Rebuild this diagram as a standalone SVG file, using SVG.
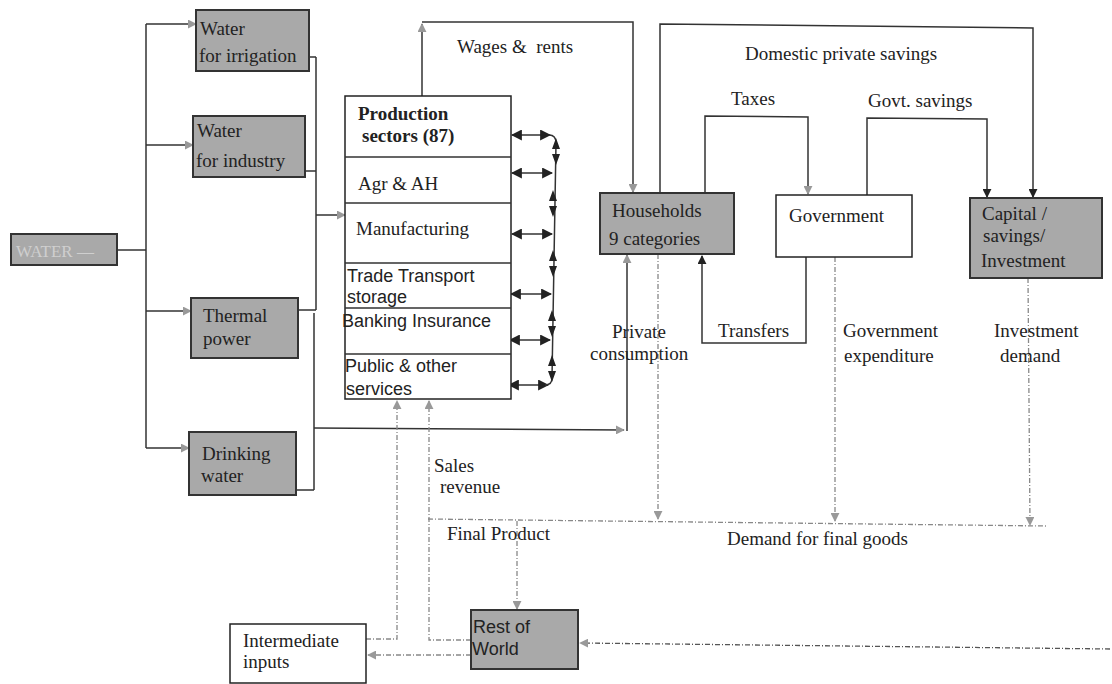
<svg xmlns="http://www.w3.org/2000/svg" width="1112" height="684" viewBox="0 0 1112 684">
<style>
.serif{font-family:"Liberation Serif","Times New Roman",serif;font-size:19px;fill:#222}
.bold{font-weight:bold}
.sans{font-family:"Liberation Sans",Arial,sans-serif;font-size:18px;fill:#222}
.gbox{fill:#a9a9a9;stroke:#333;stroke-width:2}
.wbox{fill:#fff;stroke:#222;stroke-width:1.5}
.ln{fill:none;stroke:#333;stroke-width:1.5}
.dl{fill:none;stroke:#888;stroke-width:1.3;stroke-dasharray:5 2 1 2}
.ah{fill:#222}
</style>
<defs>
<marker id="aB" viewBox="0 0 10 10" refX="9" refY="5" markerWidth="9" markerHeight="9" markerUnits="userSpaceOnUse" orient="auto"><path d="M0,0 L10,5 L0,10 z" fill="#222"/></marker>
<marker id="aD" viewBox="0 0 10 10" refX="9" refY="5" markerWidth="11" markerHeight="11" markerUnits="userSpaceOnUse" orient="auto-start-reverse"><path d="M0,0 L10,5 L0,10 z" fill="#222"/></marker>
<marker id="aG" viewBox="0 0 10 10" refX="9" refY="5" markerWidth="9" markerHeight="9" markerUnits="userSpaceOnUse" orient="auto"><path d="M0,0 L10,5 L0,10 z" fill="#999"/></marker>
</defs>

<g id="connectors">
<!-- water distribution -->
<path class="ln" d="M117,250 H146"/>
<path class="ln" d="M146,24 V448"/>
<path class="ln" marker-end="url(#aG)" d="M146,24 H196"/>
<path class="ln" marker-end="url(#aG)" d="M146,145 H193"/>
<path class="ln" marker-end="url(#aG)" d="M146,311 H191"/>
<path class="ln" marker-end="url(#aG)" d="M146,448 H189"/>
<path class="ln" d="M309,57 H316 M305,171 H316 M298,310 H316 M296,490 H314"/>
<path class="ln" d="M316,57 V310 M314,313 V490"/>
<path class="ln" marker-end="url(#aG)" d="M316,215 H345"/>
<path class="ln" marker-end="url(#aG)" d="M314,428 L624,430"/>
<path class="ln" marker-end="url(#aG)" d="M627,431 V255"/>
<!-- wages & rents -->
<path class="ln" marker-end="url(#aG)" d="M422,96 V24"/>
<path class="ln" marker-end="url(#aG)" d="M422,22 H633 V192"/>
<!-- domestic private savings -->
<path class="ln" marker-end="url(#aB)" d="M660,193 V24 L1033,28 V197"/>
<!-- taxes -->
<path class="ln" marker-end="url(#aG)" d="M705,193 V116 L808,117 V194"/>
<!-- govt savings -->
<path class="ln" marker-end="url(#aB)" d="M867,195 V118 L987,119 V197"/>
<!-- transfers -->
<path class="ln" marker-end="url(#aB)" d="M806,257 V343 H702 V256"/>
<!-- demand flows -->
<path class="dl" marker-end="url(#aG)" d="M658,254 V519"/>
<path class="dl" marker-end="url(#aG)" d="M835,257 V521"/>
<path class="dl" marker-end="url(#aG)" d="M1028,278 L1030,525"/>
<path class="dl" d="M428,519 L1047,526"/>
<path class="dl" marker-end="url(#aG)" d="M517,521 V609"/>
<!-- sales revenue -->
<path class="dl" marker-end="url(#aG)" d="M471,640 H429 V401"/>
<!-- intermediate inputs -->
<path class="dl" marker-end="url(#aG)" d="M366,639 H397 V401"/>
<path class="dl" marker-end="url(#aG)" d="M471,655 H368"/>
<!-- from right -->
<path class="dl" style="stroke:#555" marker-end="url(#aG)" d="M1110,649 L580,643"/>
<!-- inter-sector links -->
<path class="ln" marker-start="url(#aD)" marker-end="url(#aD)" d="M512,135 H550"/>
<path class="ln" marker-start="url(#aD)" marker-end="url(#aD)" d="M512,173 H552"/>
<path class="ln" marker-start="url(#aD)" marker-end="url(#aD)" d="M512,234 H552"/>
<path class="ln" marker-start="url(#aD)" marker-end="url(#aD)" d="M511,294 H551"/>
<path class="ln" marker-start="url(#aD)" marker-end="url(#aD)" d="M510,340 H550"/>
<path class="ln" marker-start="url(#aD)" marker-end="url(#aD)" d="M509,385 H548"/>
<path class="ln" d="M549,135 Q556,135 556,143 L552,378 Q552,385 545,385"/>
<g class="ah">
<path d="M552,149 L556,138 L560,149 z M552,154 L560,154 L556,165 z"/>
<path d="M549,201 L553,190 L557,201 z M549,206 L557,206 L553,217 z"/>
<path d="M549,261 L553,250 L557,261 z M549,266 L557,266 L553,277 z"/>
<path d="M548,321 L552,310 L556,321 z M548,326 L556,326 L552,337 z"/>
<path d="M548,366 L552,355 L556,366 z M548,371 L556,371 L552,382 z"/>
</g>
</g>

<g id="water">
<rect class="gbox" x="11" y="234" width="106" height="31"/>
<text class="serif" x="16" y="257" style="fill:#cfcfcf;font-size:17px">WATER —</text>
</g>
<g id="irrigation">
<rect class="gbox" x="196" y="10" width="113" height="61"/>
<text class="serif" x="200" y="35">Water</text>
<text class="serif" x="199" y="62">for irrigation</text>
</g>
<g id="industry">
<rect class="gbox" x="193" y="116" width="112" height="61"/>
<text class="serif" x="197" y="137">Water</text>
<text class="serif" x="196" y="167">for industry</text>
</g>
<g id="thermal">
<rect class="gbox" x="191" y="298" width="107" height="60"/>
<text class="serif" x="203" y="322">Thermal</text>
<text class="serif" x="203" y="345">power</text>
</g>
<g id="drinking">
<rect class="gbox" x="189" y="432" width="107" height="63"/>
<text class="serif" x="202" y="460">Drinking</text>
<text class="serif" x="201" y="482">water</text>
</g>

<g id="production">
<rect class="wbox" x="345" y="96" width="166" height="303"/>
<path class="ln" d="M345,157 H511 M345,203 H511 M345,263 H511 M345,308 H511 M345,354 H511"/>
<text class="serif bold" x="358" y="120">Production</text>
<text class="serif bold" x="362" y="142">sectors (87)</text>
<text class="serif" x="358" y="190">Agr &amp; AH</text>
<text class="serif" x="356" y="235">Manufacturing</text>
<text class="sans" x="347" y="282">Trade Transport</text>
<text class="sans" x="347" y="303">storage</text>
<text class="sans" x="342" y="327">Banking Insurance</text>
<text class="sans" x="345" y="372">Public &amp; other</text>
<text class="sans" x="346" y="395">services</text>
</g>

<g id="households">
<rect class="gbox" x="600" y="193" width="134" height="61"/>
<text class="serif" x="612" y="217">Households</text>
<text class="serif" x="609" y="245">9 categories</text>
</g>
<g id="government">
<rect class="wbox" x="776" y="195" width="136" height="62"/>
<text class="serif" x="789" y="222">Government</text>
</g>
<g id="capital">
<rect class="gbox" x="970" y="198" width="132" height="80"/>
<text class="serif" x="982" y="220">Capital /</text>
<text class="serif" x="983" y="242">savings/</text>
<text class="serif" x="981" y="267">Investment</text>
</g>
<g id="rest-of-world">
<rect class="gbox" x="471" y="610" width="107" height="59"/>
<text class="sans" x="473" y="633">Rest of</text>
<text class="sans" x="472" y="655">World</text>
</g>
<g id="intermediate">
<rect class="wbox" x="230" y="624" width="136" height="59"/>
<text class="serif" x="243" y="647">Intermediate</text>
<text class="serif" x="243" y="668">inputs</text>
</g>

<g id="labels">
<text class="serif" x="457" y="53" xml:space="preserve">Wages &amp;  rents</text>
<text class="serif" x="745" y="60">Domestic private savings</text>
<text class="serif" x="731" y="105">Taxes</text>
<text class="serif" x="868" y="107">Govt. savings</text>
<text class="serif" x="612" y="338">Private</text>
<text class="serif" x="590" y="360">consumption</text>
<text class="serif" x="718" y="337">Transfers</text>
<text class="serif" x="843" y="337">Government</text>
<text class="serif" x="844" y="362">expenditure</text>
<text class="serif" x="994" y="337">Investment</text>
<text class="serif" x="1000" y="362">demand</text>
<text class="serif" x="434" y="472">Sales</text>
<text class="serif" x="440" y="493">revenue</text>
<text class="serif" x="447" y="540">Final Product</text>
<text class="serif" x="727" y="545">Demand for final goods</text>
</g>
</svg>
